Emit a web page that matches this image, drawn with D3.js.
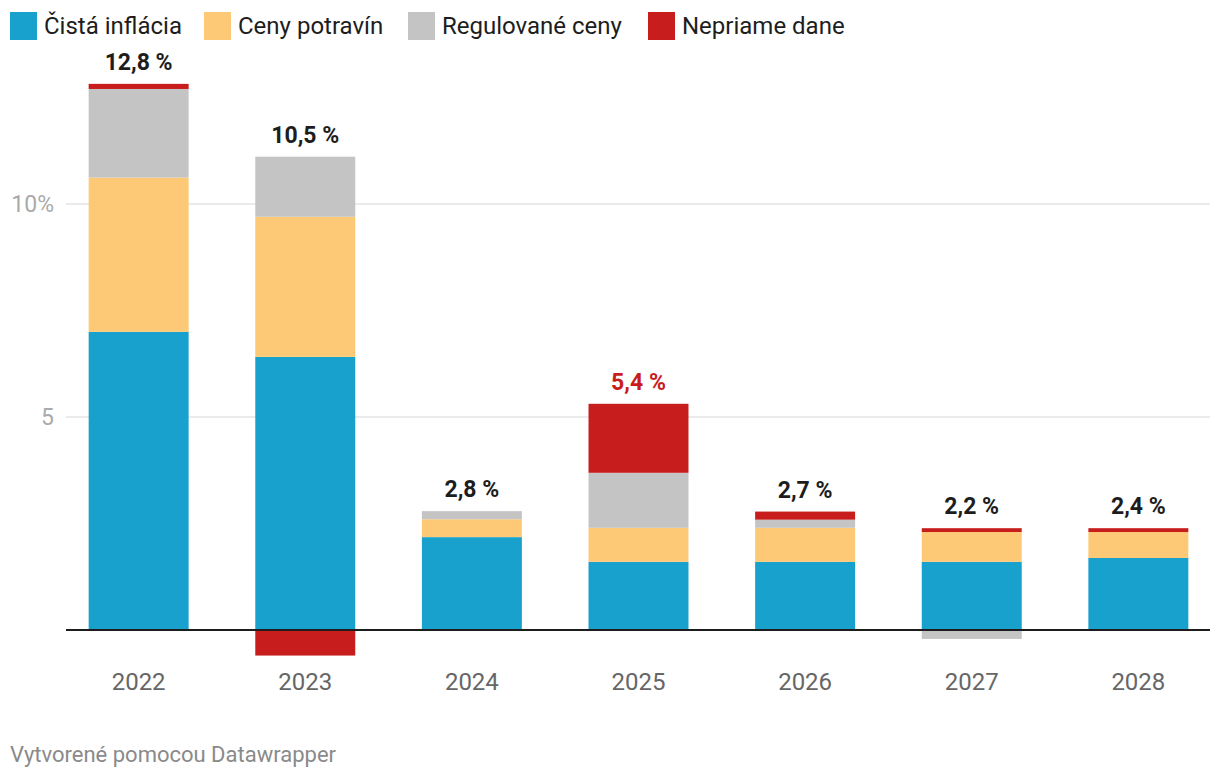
<!DOCTYPE html>
<html><head><meta charset="utf-8">
<script src="https://cdn.jsdelivr.net/npm/d3@7"></script>
<style>
body{margin:0;background:#fff;font-family:Roboto,sans-serif;}
</style></head>
<body><svg id="chart" width="1220" height="778"></svg>
<script>
const years = ["2022","2023","2024","2025","2026","2027","2028"];
const seriesNames = ["Čistá inflácia","Ceny potravín","Regulované ceny","Nepriame dane"];
const seriesColors = ["#18a1cd","#fdc977","#c4c4c4","#c71e1d"];
const cistaInflacia = [7.0, 6.41, 2.18, 1.60, 1.60, 1.60, 1.69];
const cenyPotravin  = [3.62, 3.29, 0.42, 0.80, 0.80, 0.70, 0.61];
const regulovaneCeny= [2.08, 1.41, 0.19, 1.29, 0.19, -0.21, 0.0];
const nepriameDane  = [0.12, -0.60, 0.0, 1.62, 0.19, 0.09, 0.09];
const totalLabels = ["12,8 %","10,5 %","2,8 %","5,4 %","2,7 %","2,2 %","2,4 %"];
const labelColors = ["#1d1d1d","#1d1d1d","#1d1d1d","#c71e1d","#1d1d1d","#1d1d1d","#1d1d1d"];
const yTicks = [5, 10];
const yTickLabels = ["5", "10%"];

const keys = ["a","b","c","d"];
const rows = years.map((y,i)=>({year:y,a:cistaInflacia[i],b:cenyPotravin[i],c:regulovaneCeny[i],d:nepriameDane[i]}));

const svg = d3.select("#chart");
const x = d3.scaleBand().domain(years).range([67,1210]).paddingInner(0.4).paddingOuter(0.13);
const y = d3.scaleLinear().domain([0,10]).range([630,204]);

// gridlines
svg.append("g").selectAll("line").data(yTicks).join("line")
  .attr("x1",66).attr("x2",1210).attr("y1",d=>y(d)).attr("y2",d=>y(d))
  .attr("stroke","#e5e5e5").attr("stroke-width",1.5);
svg.append("g").selectAll("text").data(yTicks).join("text")
  .attr("x",54).attr("y",d=>y(d)+8).attr("text-anchor","end")
  .attr("font-size",23).attr("fill","#aaaaaa").text((d,i)=>yTickLabels[i]);

const stack = d3.stack().keys(keys).offset(d3.stackOffsetDiverging);
const stacked = stack(rows);
svg.append("g").selectAll("g").data(stacked).join("g")
  .attr("fill",(d,i)=>seriesColors[i])
  .selectAll("rect").data(d=>d).join("rect")
  .attr("x",d=>x(d.data.year)).attr("width",x.bandwidth())
  .attr("y",d=>y(Math.max(d[0],d[1]))).attr("height",d=>Math.abs(y(d[0])-y(d[1])));

// baseline
svg.append("line").attr("x1",66).attr("x2",1210).attr("y1",y(0)).attr("y2",y(0))
  .attr("stroke","#1d1d1d").attr("stroke-width",2);

// total labels
const tops = years.map((yr,i)=>d3.max(stacked,s=>s[i][1]));
svg.append("g").selectAll("text").data(years).join("text")
  .attr("x",d=>x(d)+x.bandwidth()/2).attr("y",(d,i)=>y(tops[i])-14)
  .attr("text-anchor","middle").attr("font-size",23).attr("font-weight","bold")
  .attr("fill",(d,i)=>labelColors[i]).text((d,i)=>totalLabels[i]);

// x axis labels
svg.append("g").selectAll("text").data(years).join("text")
  .attr("x",d=>x(d)+x.bandwidth()/2).attr("y",690)
  .attr("text-anchor","middle").attr("font-size",24).attr("fill","#666666").text(d=>d);

// legend
const legendX = [10,204,408,648];
const lg = svg.append("g").selectAll("g").data(seriesNames).join("g")
  .attr("transform",(d,i)=>`translate(${legendX[i]},12)`);
lg.append("rect").attr("width",27).attr("height",28).attr("fill",(d,i)=>seriesColors[i]);
lg.append("text").attr("x",34).attr("y",22).attr("font-size",24).attr("fill","#1d1d1d").text(d=>d);

// footer
svg.append("text").attr("x",10).attr("y",762).attr("font-size",22).attr("fill","#8a8a8a")
  .text("Vytvorené pomocou Datawrapper");
</script></body></html>
